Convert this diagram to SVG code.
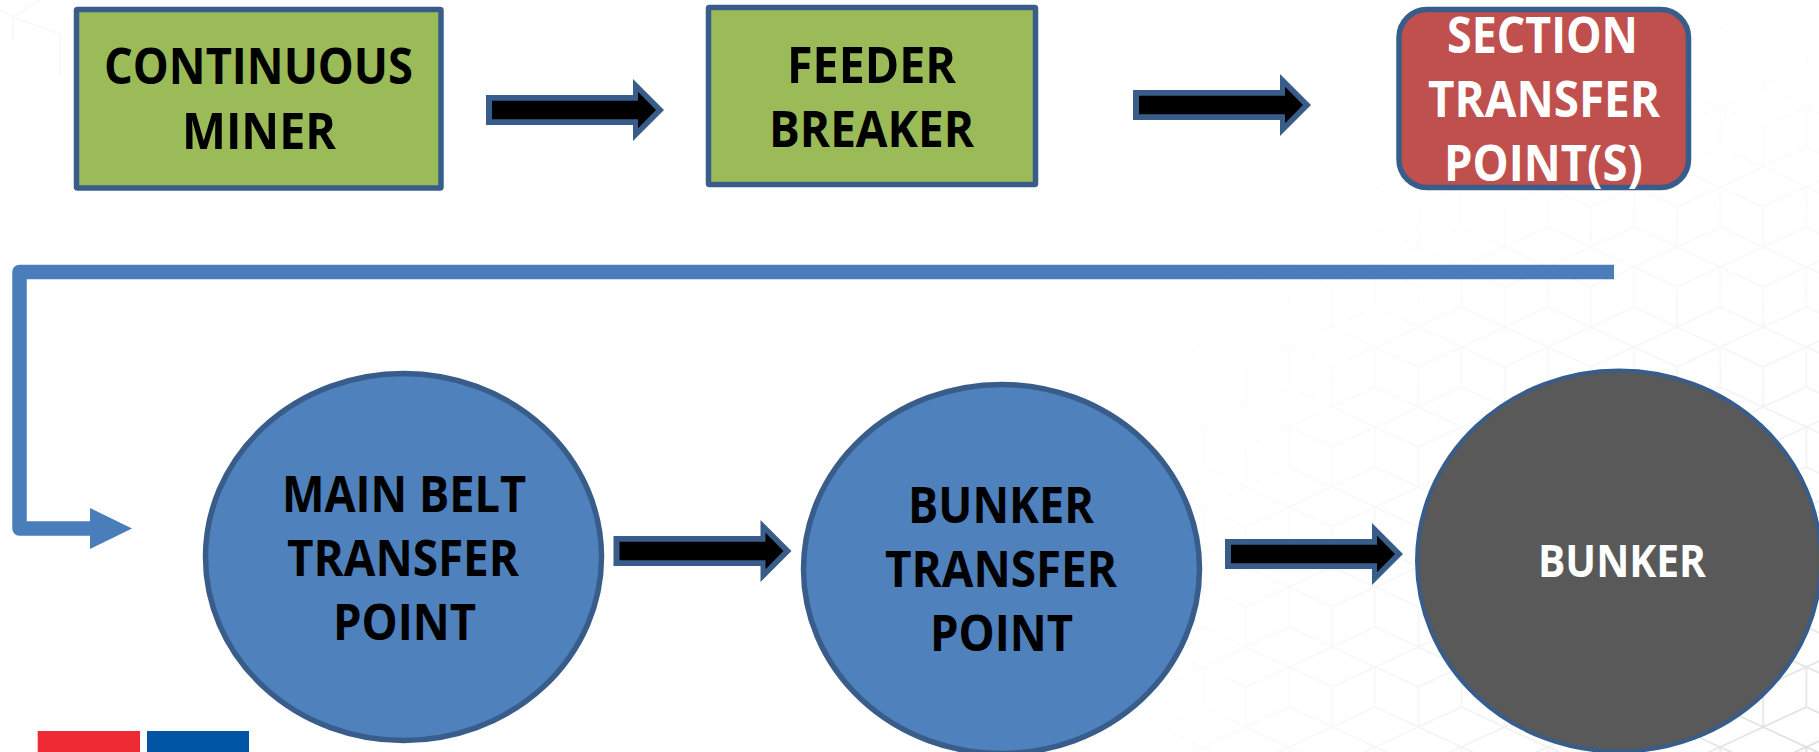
<svg xmlns="http://www.w3.org/2000/svg" width="1819" height="752" viewBox="0 0 1819 752">
<style>
.lbl{font-family:"Open Sans","Noto Sans","Liberation Sans",sans-serif;font-weight:700;font-size:50px}
.blk{fill:#000}
.wht{fill:#fff}
.box{stroke:#385d8a;stroke-width:5.5}
.green{fill:#9bbb59}
.red{fill:#c0504d}
.blue{fill:#4f81bd}
.grey{fill:#595959;stroke-width:4}
.hex{fill:none;stroke:#d8d8d8;stroke-width:1.6}
</style>
<defs>
<pattern id="cubes" patternUnits="userSpaceOnUse" x="1246" y="627" width="86.2" height="80">
<path class="hex" d="M43.1,0 L0,20 L43.1,40 L86.2,20 Z M43.1,40 V80 M0,60 L43.1,40 L86.2,60 M0,20 L-43.1,40 L0,60 M86.2,20 L129.3,40 L86.2,60 M0,60 V80 M0,0 V20 M86.2,60 V80 M86.2,0 V20"/>
</pattern>
<radialGradient id="fade" gradientUnits="userSpaceOnUse" cx="1819" cy="752" r="800">
<stop offset="0" stop-color="#fff" stop-opacity="0.85"/>
<stop offset="0.3" stop-color="#fff" stop-opacity="0.4"/>
<stop offset="0.6" stop-color="#fff" stop-opacity="0.18"/>
<stop offset="1" stop-color="#fff" stop-opacity="0"/>
</radialGradient>
<mask id="fadeMask" maskUnits="userSpaceOnUse" x="0" y="0" width="1819" height="752">
<rect width="1819" height="752" fill="url(#fade)"/>
</mask>
<g id="thick-arrow">
<polygon points="0,16 147,16 147,0 178,31 147,62 147,46 0,46" fill="#385d8a"/>
<polygon points="6,21.7 152,21.7 152,12.7 170,31 152,49.3 152,40.3 6,40.3" fill="#000"/>
</g>
<marker id="blue-head" markerUnits="userSpaceOnUse" markerWidth="42" markerHeight="41" refX="0" refY="20.5" orient="auto">
<polygon points="0,0 42,20.5 0,41" fill="#4a7ebb"/>
</marker>
</defs>
<rect width="1819" height="752" fill="#fff"/>
<g id="background">
<rect x="1000" y="0" width="819" height="752" fill="url(#cubes)" mask="url(#fadeMask)"/>
<path d="M0,10 L13,17 L60,34 V75 M13,17 V40 M13,17 L40,0" fill="none" stroke="#f8f8f8" stroke-width="1.5"/>
</g>
<g id="logo">
<rect x="37.7" y="731" width="102.3" height="21" fill="#ee2a35"/>
<rect x="147" y="731" width="102" height="21" fill="#0055a5"/>
</g>
<g id="connectors">
<use href="#thick-arrow" x="486" y="79"/>
<use href="#thick-arrow" x="1133" y="74"/>
<use href="#thick-arrow" x="613.5" y="520"/>
<use href="#thick-arrow" x="1225" y="523"/>
<path d="M1614,272 H19.5 V528.5 H90" fill="none" stroke="#4a7ebb" stroke-width="14.5" stroke-linejoin="round" marker-end="url(#blue-head)"/>
</g>
<g id="continuous-miner">
<rect class="box green" x="76.5" y="9.500" width="364.500" height="178.500" rx="1"/>
<text class="lbl blk" x="104" y="84" textLength="309" lengthAdjust="spacingAndGlyphs">CONTINUOUS</text>
<text class="lbl blk" x="182" y="148.500" textLength="154" lengthAdjust="spacingAndGlyphs">MINER</text>
</g>
<g id="feeder-breaker">
<rect class="box green" x="708.5" y="7.500" width="327" height="177" rx="1"/>
<text class="lbl blk" x="787" y="82.500" textLength="169" lengthAdjust="spacingAndGlyphs">FEEDER</text>
<text class="lbl blk" x="769" y="146.500" textLength="205" lengthAdjust="spacingAndGlyphs">BREAKER</text>
</g>
<g id="section-transfer-point">
<rect class="box red" x="1399" y="9.500" width="289.500" height="178" rx="28"/>
<text class="lbl wht" x="1447" y="53" textLength="191" lengthAdjust="spacingAndGlyphs">SECTION</text>
<text class="lbl wht" x="1428" y="117" textLength="232" lengthAdjust="spacingAndGlyphs">TRANSFER</text>
<text class="lbl wht" x="1444" y="181" textLength="199" lengthAdjust="spacingAndGlyphs">POINT(S)</text>
</g>
<g id="main-belt-transfer-point">
<ellipse class="box blue" cx="403.500" cy="557" rx="198" ry="183.500"/>
<text class="lbl blk" x="282" y="511.500" textLength="244" lengthAdjust="spacingAndGlyphs">MAIN BELT</text>
<text class="lbl blk" x="287" y="575.500" textLength="232" lengthAdjust="spacingAndGlyphs">TRANSFER</text>
<text class="lbl blk" x="333" y="639.500" textLength="143" lengthAdjust="spacingAndGlyphs">POINT</text>
</g>
<g id="bunker-transfer-point">
<ellipse class="box blue" cx="1001.500" cy="569" rx="198" ry="184.500"/>
<text class="lbl blk" x="908" y="523" textLength="186" lengthAdjust="spacingAndGlyphs">BUNKER</text>
<text class="lbl blk" x="885" y="587" textLength="232" lengthAdjust="spacingAndGlyphs">TRANSFER</text>
<text class="lbl blk" x="930" y="651" textLength="143" lengthAdjust="spacingAndGlyphs">POINT</text>
</g>
<g id="bunker">
<ellipse class="box grey" cx="1619" cy="561" rx="202" ry="190.500"/>
<text class="lbl wht" x="1538" y="577" textLength="168" lengthAdjust="spacingAndGlyphs" style="font-size:44px">BUNKER</text>
</g>
</svg>
